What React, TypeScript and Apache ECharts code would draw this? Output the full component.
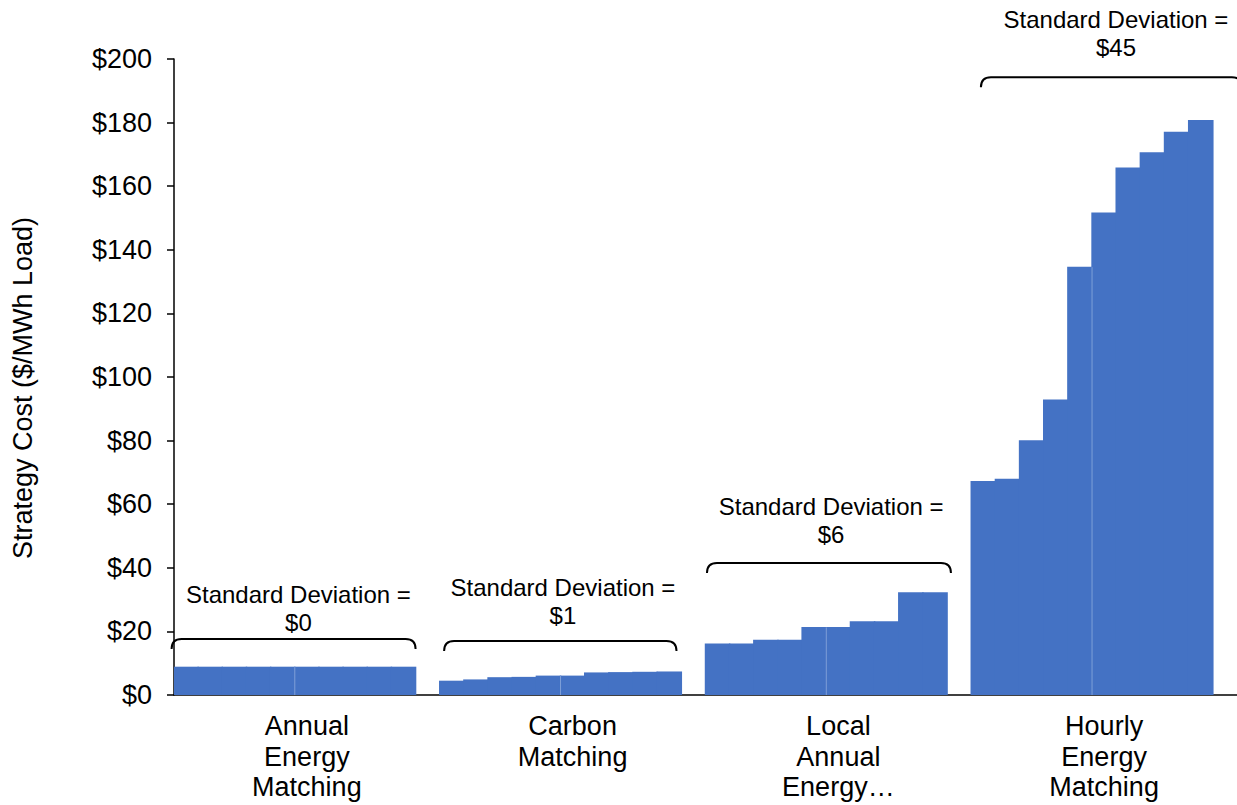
import React, { useEffect, useRef } from "react";
import * as echarts from "echarts";

const groupLabels = [
  "Annual\nEnergy\nMatching",
  "Carbon\nMatching",
  "Local\nAnnual\nEnergy…",
  "Hourly\nEnergy\nMatching",
];

const annualValues = [8.9, 8.9, 8.9, 8.9, 8.9, 8.9, 8.9, 8.9, 8.9, 8.9];
const carbonValues = [4.5, 4.9, 5.6, 5.7, 6.1, 6.1, 7.1, 7.2, 7.3, 7.4];
const localValues = [16.2, 16.2, 17.4, 17.4, 21.4, 21.4, 23.2, 23.2, 32.3, 32.3];
const hourlyValues = [67.3, 68.0, 80.1, 92.9, 134.7, 151.7, 165.9, 170.7, 177.1, 180.8];

const yTicks = [0, 20, 40, 60, 80, 100, 120, 140, 160, 180, 200];

// Annotation (std dev) texts and bracket placement in slot units / data units
const stdDevLabels = ["$0", "$1", "$6", "$45"];
const bracketStart = [-0.1, 11.18, 22.06, 33.4];
const bracketEnd = [10.0, 20.8, 32.16, 44.2];
const bracketY = [17.6, 17.0, 41.5, 194.3];
const textCenterX = [5.15, 16.1, 27.2, 38.99];
const textCenterY = [27.2, 29.4, 55.0, 207.9];

const FONT = "'Liberation Sans', Arial, Helvetica, sans-serif";

export default function App() {
  const ref = useRef<HTMLDivElement>(null);

  useEffect(() => {
    if (!ref.current) return;
    const chart = echarts.init(ref.current, undefined, { renderer: "svg" });

    const groups = [annualValues, carbonValues, localValues, hourlyValues];
    const slotsPerGroup = 11;
    const slotCats: string[] = [];
    const barData: (number | null)[] = [];
    groups.forEach((g, k) => {
      for (let i = 0; i < slotsPerGroup; i++) {
        slotCats.push(`${k}-${i}`);
        barData.push(i < g.length ? g[i] : null);
      }
    });

    const annoData = groups.map((_, k) => [k]);

    const option: any = {
      animation: false,
      grid: { left: 174, right: 0, top: 59, bottom: 110, containLabel: false },
      xAxis: [
        {
          type: "category",
          data: groupLabels,
          position: "bottom",
          axisLine: { show: true, lineStyle: { color: "#000", width: 1.5 } },
          axisTick: { show: false },
          axisLabel: {
            interval: 0,
            color: "#000",
            fontSize: 27,
            lineHeight: 30.5,
            margin: 16,
            fontFamily: FONT,
          },
          splitLine: { show: false },
        },
        {
          type: "category",
          data: slotCats,
          show: false,
          position: "bottom",
        },
        {
          type: "value",
          min: 0,
          max: 44,
          show: false,
        },
      ],
      yAxis: {
        type: "value",
        min: 0,
        max: 200,
        interval: 20,
        axisLine: { show: true, lineStyle: { color: "#000", width: 1.5 } },
        axisTick: { show: true, length: 7, lineStyle: { color: "#000", width: 1.5 } },
        splitLine: { show: false },
        axisLabel: {
          color: "#000",
          fontSize: 27,
          margin: 22,
          fontFamily: FONT,
          formatter: (v: number) => (yTicks.includes(v) ? "$" + v : ""),
        },
      },
      series: [
        {
          type: "bar",
          xAxisIndex: 1,
          data: barData,
          barWidth: 25.6,
          barCategoryGap: "0%",
          itemStyle: { color: "#4472C4" },
          z: 2,
        },
        {
          type: "custom",
          xAxisIndex: 2,
          yAxisIndex: 0,
          clip: false,
          z: 5,
          data: annoData,
          renderItem: (params: any, api: any) => {
            const k = params.dataIndex;
            const children: any[] = [];
            // faint divider between 5th and 6th bar of each group
            const g = groups[k];
            const dv = Math.min(g[4], g[5]);
            const d0 = api.coord([k * 11 + 5, 0]);
            const d1 = api.coord([k * 11 + 5, dv]);
            children.push({
              type: "line",
              shape: { x1: d0[0], y1: d0[1], x2: d1[0], y2: d1[1] + 0.5 },
              style: { stroke: "#7F9FD8", lineWidth: 1 },
            });
            // bracket
            const p1 = api.coord([bracketStart[k], bracketY[k]]);
            const p2 = api.coord([bracketEnd[k], bracketY[k]]);
            const r = 10;
            const y0 = p1[1];
            const pathData =
              `M ${p1[0]} ${y0 + r} Q ${p1[0]} ${y0} ${p1[0] + r} ${y0} ` +
              `L ${p2[0] - r} ${y0} Q ${p2[0]} ${y0} ${p2[0]} ${y0 + r}`;
            children.push({
              type: "path",
              shape: { pathData },
              style: { stroke: "#000", lineWidth: 2, fill: "none" },
            });
            const tc = api.coord([textCenterX[k], textCenterY[k]]);
            children.push({
              type: "text",
              style: {
                text: "Standard Deviation =\n" + stdDevLabels[k],
                x: tc[0],
                y: tc[1],
                align: "center",
                verticalAlign: "middle",
                fontSize: 24,
                lineHeight: 28,
                fontFamily: FONT,
                fill: "#000",
              },
            });
            return { type: "group", children };
          },
        },
      ],
      graphic: [
        {
          type: "text",
          x: 23,
          y: 388,
          rotation: Math.PI / 2,
          style: {
            text: "Strategy Cost ($/MWh Load)",
            fontSize: 27,
            fontFamily: FONT,
            fill: "#000",
            align: "center",
            verticalAlign: "middle",
          },
        },
      ],
    };

    chart.setOption(option);
    return () => chart.dispose();
  }, []);

  return (
    <div
      ref={ref}
      style={{ position: "fixed", left: 0, top: 0, width: 1237, height: 805, background: "#fff" }}
    />
  );
}
